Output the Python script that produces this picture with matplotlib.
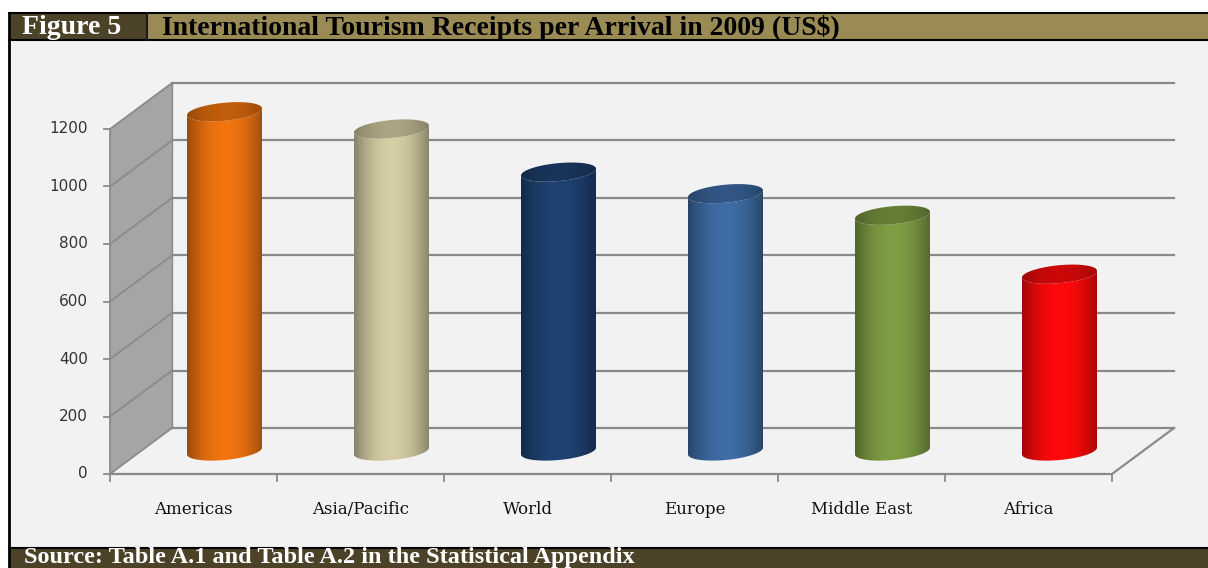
import numpy as np
import matplotlib.pyplot as plt
from matplotlib.patches import Rectangle, Polygon
from matplotlib.colors import to_rgb

categories = ['Americas', 'Asia/Pacific', 'World', 'Europe', 'Middle East', 'Africa']
receipts = [1180, 1120, 970, 895, 820, 615]
colors = ['#f27510', '#d6cea4', '#1f4272', '#3e6ca5', '#7f9e44', '#ff0a0a']
yticks = [0, 200, 400, 600, 800, 1000, 1200]

W, H = 1208, 568
fig = plt.figure(figsize=(W / 100, H / 100), dpi=100)

# ---- frame, header and footer (pixel coordinates) ----
bg = fig.add_axes([0, 0, 1, 1])
bg.set_xlim(0, W)
bg.set_ylim(H, 0)
bg.axis('off')
bg.add_patch(Rectangle((9, 40), W - 9, 508, fc='#f2f2f2', ec='none'))
bg.add_patch(Rectangle((9, 13), 138, 27, fc='#4b4228', ec='none'))
bg.add_patch(Rectangle((147, 13), W - 147, 27, fc='#9a8b55', ec='none'))
bg.add_patch(Rectangle((9, 548), W - 9, 20, fc='#4b4228', ec='none'))
bg.plot([9, W], [13, 13], color='black', lw=1.5)
bg.plot([9, W], [40, 40], color='black', lw=1.5)
bg.plot([9, W], [548, 548], color='black', lw=1.5)
bg.plot([9, 9], [13, 568], color='black', lw=2)
bg.plot([147, 147], [13, 40], color='#1a1a1a', lw=1.5)

serif = ['Liberation Serif', 'DejaVu Serif']
bg.text(22, 28, 'Figure 5', color='white', fontsize=20, fontweight='bold',
        family=serif, va='center', ha='left')
bg.text(162, 28, 'International Tourism Receipts per Arrival in 2009 (US$)',
        color='black', fontsize=20, fontweight='bold', family=serif,
        va='center', ha='left')
bg.text(24, 557.5, 'Source: Table A.1 and Table A.2 in the Statistical Appendix',
        color='white', fontsize=17.5, fontweight='bold', family=serif,
        va='center', ha='left')

# ---- chart area: x in category units, y in US$ ----
X0, CAT = 110.0, 167.0      # pixel of x=0, pixels per category
Y0, UNIT = 474.0, 0.2875    # pixel of y=0, pixels per US$
DX, DY = 62 / CAT, 46 / UNIT   # depth offset of the back wall

ax = fig.add_axes([9 / W, (H - 549) / H, (W - 9) / W, 509 / H])
ax.axis('off')
xlim = ((9 - X0) / CAT, (W - X0) / CAT)
ylim = ((Y0 - 549) / UNIT, (Y0 - 40) / UNIT)

n = len(categories)
vmax = yticks[-1]
grid = '#8a8a8a'

# side wall
ax.add_patch(Polygon([(0, 0), (0, vmax), (DX, vmax + DY), (DX, DY)],
                     closed=True, fc='#a5a5a5', ec='none', zorder=1))
for v in yticks:
    ax.plot([0, DX], [v, v + DY], color=grid, lw=1.3, zorder=2)
    ax.plot([DX, n + DX], [v + DY, v + DY], color=grid, lw=1.6, zorder=2)
    ax.plot([-6 / CAT, 0], [v, v], color=grid, lw=1.3, zorder=2)
    ax.text(-22 / CAT, v, str(v), ha='right', va='center', fontsize=11,
            color='#333333', family='DejaVu Sans')
ax.plot([0, 0], [0, vmax], color=grid, lw=1.3, zorder=2)
ax.plot([DX, DX], [DY, vmax + DY], color=grid, lw=1.0, zorder=2)

# floor
ax.plot([0, n, n + DX], [0, 0, DY], color=grid, lw=1.6, zorder=2)
for i in range(n + 1):
    ax.plot([i, i], [0, -7 / UNIT], color=grid, lw=1.3, zorder=2)
for i, name in enumerate(categories):
    ax.text(i + 0.5, -125, name, ha='center', va='center', fontsize=12,
            color='#111111', family='DejaVu Serif')

# cylinders
half_w = 37.5      # px
ell_b = 9.0        # px
tilt = 0.09
t = np.linspace(0, 2 * np.pi, 181)


def ellipse_pts(cx, cv, t):
    px = half_w * np.cos(t)
    py = ell_b * np.sin(t) + tilt * px
    return np.column_stack([cx + px / CAT, cv + py / UNIT])


u = np.linspace(0, 1, 256)
body_shade = 0.58 + 0.42 * np.sin(np.pi * np.clip(u * 0.95 + 0.02, 0, 1)) ** 0.8
top_shade = 0.62 + 0.18 * np.sin(np.pi * u) ** 0.8

for i, (val, col) in enumerate(zip(receipts, colors)):
    rgb = np.array(to_rgb(col))
    cx = i + 0.5 + DX / 2
    base = DY / 2
    top = val + DY / 2
    front = np.linspace(np.pi, 2 * np.pi, 91)
    bot_arc = ellipse_pts(cx, base, front[::-1])
    top_arc = ellipse_pts(cx, top, front)
    body = np.vstack([top_arc, bot_arc])
    body_patch = Polygon(body, closed=True, fc='none', ec='none', zorder=3)
    ax.add_patch(body_patch)
    img = np.clip(body_shade[None, :, None] * rgb[None, None, :], 0, 1)
    x0, x1 = cx - half_w / CAT, cx + half_w / CAT
    im = ax.imshow(img, extent=(x0, x1, base - 20 / UNIT, top + 20 / UNIT),
                   aspect='auto', interpolation='bilinear', zorder=3)
    im.set_clip_path(body_patch)

    cap = Polygon(ellipse_pts(cx, top, t), closed=True, fc='none', ec='none', zorder=4)
    ax.add_patch(cap)
    img2 = np.clip(top_shade[None, :, None] * rgb[None, None, :], 0, 1)
    im2 = ax.imshow(img2, extent=(x0, x1, top - 20 / UNIT, top + 20 / UNIT),
                    aspect='auto', interpolation='bilinear', zorder=4)
    im2.set_clip_path(cap)

ax.set_xlim(*xlim)
ax.set_ylim(*ylim)

fig.savefig('out.png', dpi=100)
